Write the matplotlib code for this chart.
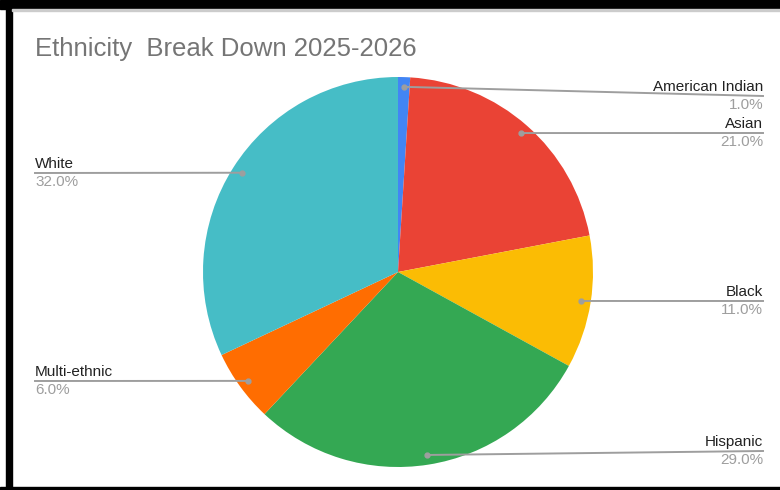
import numpy as np
import matplotlib
matplotlib.use("Agg")
import matplotlib.pyplot as plt
from matplotlib.patches import Rectangle

plt.rcParams['font.family'] = ['Liberation Sans', 'DejaVu Sans']

labels = ['American Indian', 'Asian', 'Black', 'Hispanic', 'Multi-ethnic', 'White']
shares = [1.0, 21.0, 11.0, 29.0, 6.0, 32.0]
colors = ['#4285F4', '#EA4335', '#FBBC04', '#34A853', '#FF6D01', '#46BDC6']
title = 'Ethnicity  Break Down 2025-2026'

W, H = 780, 490
fig = plt.figure(figsize=(W / 100, H / 100), dpi=100)


def fx(x):
    return x / W


def fy(y):
    return 1 - y / H


# black frame round the chart (screenshot border)
for (x0, y0, w, h, c) in [(0, 0, W, 9, 'black'), (6, 0, 6, H, 'black'),
                          (0, 487, W, 3, 'black'), (12, 9, W, 2, '#cccccc')]:
    fig.patches.append(Rectangle((fx(x0), fy(y0 + h)), w / W, h / H,
                                 transform=fig.transFigure, color=c, zorder=5))

fig.text(fx(35), fy(56), title, fontsize=18.5, color='#757575', va='baseline')

cx, cy, r = 398, 272, 195
ax = fig.add_axes([fx(cx - r), fy(cy + r), 2 * r / W, 2 * r / H])
wedges, _ = ax.pie(shares, colors=colors, startangle=90, counterclock=False,
                   wedgeprops=dict(linewidth=0))
ax.set_xlim(-1, 1)
ax.set_ylim(-1, 1)
ax.axis('off')

# label layout: (y of leader line in px, side)
line_y = [96, 133, 301, 451, 381, 173]
side = ['r', 'r', 'r', 'r', 'l', 'l']

for wdg, lab, val, ly, s in zip(wedges, labels, shares, line_y, side):
    mid = np.deg2rad((wdg.theta1 + wdg.theta2) / 2)
    px, py = ax.transData.transform((0.95 * np.cos(mid), 0.95 * np.sin(mid)))
    dx, dy = px / W, py / H
    xe = 763 if s == 'r' else 35
    ha = 'right' if s == 'r' else 'left'
    fig.add_artist(plt.Line2D([dx, fx(xe)], [dy, fy(ly)], color='#9e9e9e',
                              lw=1.4, transform=fig.transFigure))
    fig.add_artist(plt.Line2D([dx], [dy], marker='o', ms=3.5, color='#9e9e9e',
                              transform=fig.transFigure))
    fig.text(fx(xe), fy(ly - 2), lab, fontsize=11, color='#222222', ha=ha, va='bottom')
    fig.text(fx(xe), fy(ly + 2), f'{val:.1f}%', fontsize=11, color='#9e9e9e', ha=ha, va='top')

fig.savefig('out.png', dpi=100)
